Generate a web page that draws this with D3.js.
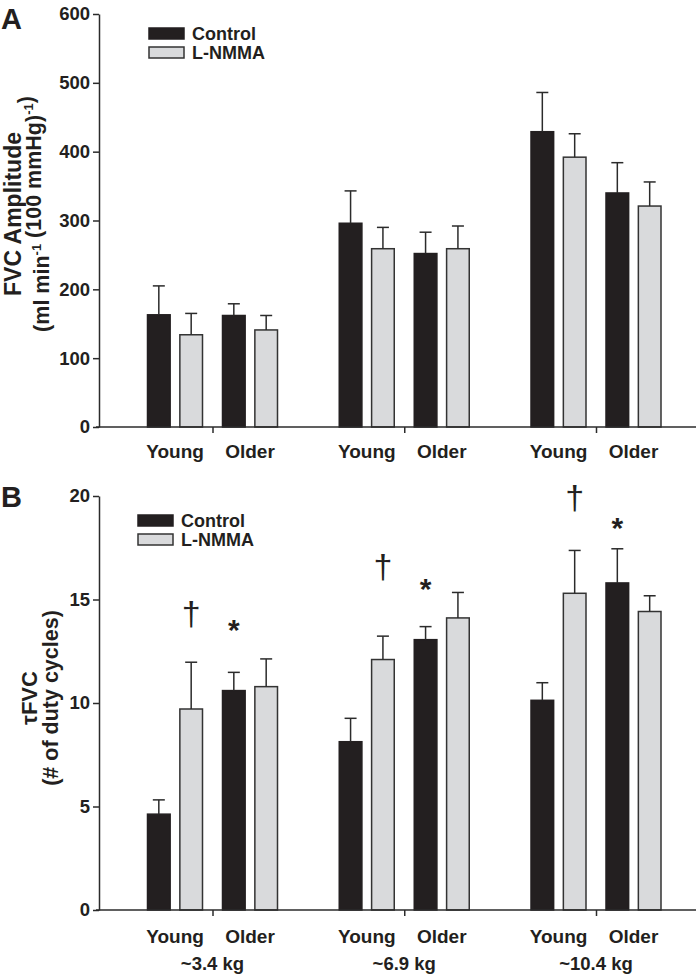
<!DOCTYPE html>
<html>
<head>
<meta charset="utf-8">
<script src="https://cdn.jsdelivr.net/npm/d3@7"></script>
<style>
  html, body { margin: 0; padding: 0; background: #fff; }
  svg { display: block; }
  text { font-family: "Liberation Sans", Arial, sans-serif; fill: #231f20; }
</style>
</head>
<body>
<svg id="chart" width="696" height="979"></svg>
<script>
// ---------- DATA ----------
const groups = ["~3.4 kg", "~6.9 kg", "~10.4 kg"];
const ages = ["Young", "Older"];
const treatments = ["Control", "L-NMMA"];

// Panel A: FVC amplitude; order per array: [g1 Young, g1 Older, g2 Young, g2 Older, g3 Young, g3 Older]
const ampControl   = [163, 162, 296, 252, 429, 340];
const ampControlSE = [42, 17, 47, 31, 57, 44];
const ampLNMMA     = [134, 141, 259, 259, 392, 321];
const ampLNMMASE   = [31, 21, 31, 33, 34, 35];
const ampTicks = [0, 100, 200, 300, 400, 500, 600];

// Panel B: tau FVC (# of duty cycles)
const tauControl   = [4.63, 10.6, 8.13, 13.06, 10.13, 15.8];
const tauControlSE = [0.69, 0.88, 1.13, 0.63, 0.85, 1.65];
const tauLNMMA     = [9.71, 10.79, 12.1, 14.11, 15.3, 14.42];
const tauLNMMASE   = [2.26, 1.34, 1.13, 1.23, 2.07, 0.76];
const tauTicks = [0, 5, 10, 15, 20];

// significance marks (level in data units): dagger over L-NMMA Young, star over Control Older
const daggerLevel = [14.2, 16.45, 19.8];
const starLevel   = [13.85, 15.85, 18.8];

// ---------- LAYOUT ----------
const svg = d3.select("#chart");
const COL_BLACK = "#231f20", COL_GRAY = "#d9dadc", COL_LINE = "#2b2b2b";

const x0 = d3.scalePoint().domain(groups).range([212.5, 596]);
const x1 = d3.scalePoint().domain(ages).range([-37.5, 37.5]);
const x2 = d3.scaleBand().domain(treatments).range([-27.5, 27.5]).paddingInner(0.3);
const fill = d3.scaleOrdinal().domain(treatments).range([COL_BLACK, COL_GRAY]);

function buildRows(ctrl, ctrlSE, lnmma, lnmmaSE) {
  const rows = [];
  groups.forEach((g, gi) => ages.forEach((a, ai) => {
    const i = gi * 2 + ai;
    rows.push({ g, a, t: "Control", v: ctrl[i], se: ctrlSE[i] });
    rows.push({ g, a, t: "L-NMMA", v: lnmma[i], se: lnmmaSE[i] });
  }));
  return rows;
}
const barX = d => x0(d.g) + x1(d.a) + x2(d.t);

function drawPanel(opts) {
  const { y, ticks, rows, legendX, legendY, panelLabel, panelLabelY, titleLines, titleY, titleX, titleSize, showKg, ageY, kgY } = opts;
  const g = svg.append("g");
  const y0 = y(0);

  // bars
  g.selectAll("rect.bar").data(rows).join("rect")
    .attr("x", barX).attr("width", x2.bandwidth())
    .attr("y", d => y(d.v)).attr("height", d => y0 - y(d.v))
    .attr("fill", d => fill(d.t))
    .attr("stroke", d => d.t === "Control" ? COL_BLACK : "#333")
    .attr("stroke-width", 1.5);

  // error bars (upper only)
  const eb = g.selectAll("g.err").data(rows).join("g")
    .attr("stroke", COL_LINE).attr("stroke-width", 1.5);
  eb.append("line")
    .attr("x1", d => barX(d) + x2.bandwidth() / 2).attr("x2", d => barX(d) + x2.bandwidth() / 2)
    .attr("y1", d => y(d.v)).attr("y2", d => y(d.v + d.se));
  eb.append("line")
    .attr("x1", d => barX(d) + x2.bandwidth() / 2 - 6).attr("x2", d => barX(d) + x2.bandwidth() / 2 + 6)
    .attr("y1", d => y(d.v + d.se)).attr("y2", d => y(d.v + d.se));

  // y axis
  const ax = g.append("g").attr("transform", "translate(99,0)")
    .call(d3.axisLeft(y).tickValues(ticks).tickSize(6).tickSizeOuter(0).tickPadding(3));
  ax.select(".domain").attr("stroke", COL_LINE).attr("stroke-width", 1.5);
  ax.selectAll(".tick line").attr("stroke", COL_LINE).attr("stroke-width", 1.5);
  ax.selectAll(".tick text").attr("font-size", 18.5).attr("font-weight", "bold")
    .attr("font-family", "'Liberation Sans', Arial, sans-serif").attr("fill", COL_BLACK);

  // x axis line
  g.append("line").attr("x1", 96).attr("x2", 696).attr("y1", y0).attr("y2", y0)
    .attr("stroke", COL_LINE).attr("stroke-width", 1.5);
  const xa = g.append("g").attr("transform", `translate(0,${y0})`)
    .call(d3.axisBottom(x0).tickSize(6).tickFormat(""));
  xa.select(".domain").remove();
  xa.selectAll(".tick line").attr("stroke", COL_LINE).attr("stroke-width", 1.5);

  // age labels
  const ageRows = [];
  groups.forEach(gr => ages.forEach(a => ageRows.push({ g: gr, a })));
  g.selectAll("text.age").data(ageRows).join("text")
    .attr("x", d => x0(d.g) + x1(d.a)).attr("y", ageY)
    .attr("text-anchor", "middle").attr("dominant-baseline", "central")
    .attr("font-size", 19).attr("font-weight", "bold").text(d => d.a);
  if (showKg) {
    g.selectAll("text.kg").data(groups).join("text")
      .attr("x", d => x0(d)).attr("y", kgY)
      .attr("text-anchor", "middle").attr("dominant-baseline", "central")
      .attr("font-size", 18.5).attr("font-weight", "bold").text(d => d);
  }

  // legend
  const lg = g.append("g").attr("transform", `translate(${legendX},${legendY})`);
  treatments.forEach((t, i) => {
    lg.append("rect").attr("x", 0).attr("y", i * 19).attr("width", 35).attr("height", 11)
      .attr("fill", fill(t)).attr("stroke", t === "Control" ? COL_BLACK : "#333").attr("stroke-width", 1.5);
    lg.append("text").attr("x", 43).attr("y", i * 19 + 5.5).attr("dominant-baseline", "central")
      .attr("font-size", 18).attr("font-weight", "bold").text(t);
  });

  // panel label
  g.append("text").attr("x", 1).attr("y", panelLabelY).attr("font-size", 29).attr("font-weight", "bold").text(panelLabel);

  // y-axis title
  titleLines.forEach((parts, li) => {
    const tt = g.append("text")
      .attr("transform", `translate(${titleX[li]},${titleY}) rotate(-90)`)
      .attr("text-anchor", "middle").attr("font-size", titleSize[li]).attr("font-weight", "bold");
    parts.forEach(p => {
      if (p.sup) {
        tt.append("tspan").attr("font-size", 13).attr("dy", -8).text(p.s);
        tt.append("tspan").attr("dy", 8).text("");
      } else {
        tt.append("tspan").text(p.s);
      }
    });
  });
  return g;
}

// ---------- PANEL A ----------
const yA = d3.scaleLinear().domain([0, 600]).range([427, 14]);
drawPanel({
  y: yA, ticks: ampTicks,
  rows: buildRows(ampControl, ampControlSE, ampLNMMA, ampLNMMASE),
  legendX: 149, legendY: 28, panelLabel: "A", panelLabelY: 29,
  titleLines: [
    [{ s: "FVC Amplitude" }],
    [{ s: "(ml min" }, { s: "-1", sup: true }, { s: " (100 mmHg)" }, { s: "-1", sup: true }, { s: ")" }]
  ],
  titleX: [21, 49], titleSize: [23, 21.5], titleY: 214, showKg: false, ageY: 451
});

// ---------- PANEL B ----------
const yB = d3.scaleLinear().domain([0, 20]).range([910, 496]);
const gB = drawPanel({
  y: yB, ticks: tauTicks,
  rows: buildRows(tauControl, tauControlSE, tauLNMMA, tauLNMMASE),
  legendX: 138, legendY: 515, panelLabel: "B", panelLabelY: 507,
  titleLines: [
    [{ s: "τFVC" }],
    [{ s: "(# of duty cycles)" }]
  ],
  titleX: [37, 58], titleSize: [22, 21.5], titleY: 698, showKg: true, ageY: 936, kgY: 963
});

// significance marks
const midBar = (g, a, t) => x0(g) + x1(a) + x2(t) + x2.bandwidth() / 2;
gB.selectAll("text.dagger").data(groups).join("text")
  .attr("x", d => midBar(d, "Young", "L-NMMA"))
  .attr("y", (d, i) => yB(daggerLevel[i]) + 9)
  .attr("text-anchor", "middle").attr("font-size", 34).attr("fill", "#231f20").text("†");
gB.selectAll("text.star").data(groups).join("text")
  .attr("x", d => midBar(d, "Older", "Control"))
  .attr("y", (d, i) => yB(starLevel[i]) + 17)
  .attr("text-anchor", "middle").attr("font-size", 30).attr("font-weight", "bold").text("*");
</script>
</body>
</html>
